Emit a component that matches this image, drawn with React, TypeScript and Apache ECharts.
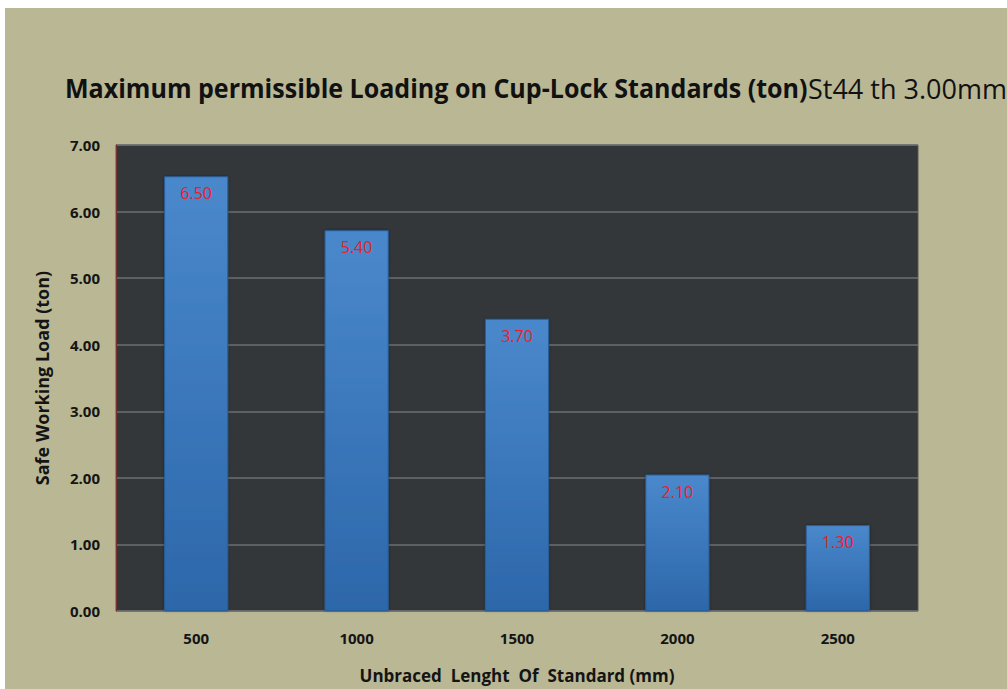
import React, { useEffect, useRef } from "react";
import * as echarts from "echarts";

const categories = ["500", "1000", "1500", "2000", "2500"];
// bar heights as drawn in the picture
const barHeights = [6.53, 5.72, 4.39, 2.05, 1.29];
// value labels printed on the bars
const barLabels = ["6.50", "5.40", "3.70", "2.10", "1.30"];
const yTicks = [0, 1, 2, 3, 4, 5, 6, 7];
const titleBold = "Maximum permissible Loading on Cup-Lock Standards (ton)";
const titleNormal = "St44 th 3.00mm";

const FONT = '"Open Sans", "Noto Sans", sans-serif';

export default function App() {
  const ref = useRef<HTMLDivElement>(null);
  useEffect(() => {
    if (!ref.current) return;
    const chart = echarts.init(ref.current, null, { renderer: "svg" });
    chart.setOption({
      animation: false,
      backgroundColor: "#b9b794",
      graphic: [
        {
          type: "text",
          x: 60,
          y: 80,
          scaleX: 0.928,
          style: {
            text: titleBold,
            fontFamily: FONT,
            fontWeight: "bold",
            fontSize: 27,
            fill: "#111",
            verticalAlign: "middle",
            align: "left",
          },
        },
        {
          type: "text",
          x: 803,
          y: 80,
          style: {
            text: titleNormal,
            fontFamily: FONT,
            fontWeight: "normal",
            fontSize: 27,
            fill: "#111",
            verticalAlign: "middle",
            align: "left",
          },
        },
      ],
      grid: {
        left: 111,
        right: 89,
        top: 137,
        bottom: 78,
        show: true,
        backgroundColor: "#33373a",
        borderWidth: 1,
        borderColor: "#55585a",
      },
      xAxis: {
        type: "category",
        data: categories,
        axisTick: { show: false },
        axisLine: { show: false },
        axisLabel: {
          margin: 19,
          fontFamily: FONT,
          fontWeight: "bold",
          fontSize: 15,
          color: "#141414",
        },
        name: "Unbraced  Lenght  Of  Standard (mm)",
        nameLocation: "middle",
        nameGap: 56,
        nameTextStyle: { fontFamily: FONT, fontWeight: "bold", fontSize: 17, color: "#141414" },
      },
      yAxis: {
        type: "value",
        min: yTicks[0],
        max: yTicks[yTicks.length - 1],
        interval: 1,
        axisLine: { show: true, lineStyle: { color: "#7a3030", width: 1 } },
        axisTick: { show: false },
        splitLine: { lineStyle: { color: "#6e7173", width: 1.5 } },
        axisLabel: {
          margin: 16,
          formatter: (v: number) => v.toFixed(2),
          fontFamily: FONT,
          fontWeight: "bold",
          fontSize: 15,
          color: "#141414",
        },
        name: "Safe Working Load (ton)",
        nameLocation: "middle",
        nameGap: 65,
        nameTextStyle: { fontFamily: FONT, fontWeight: "bold", fontSize: 18, color: "#141414" },
      },
      series: [
        {
          type: "bar",
          data: barHeights,
          barWidth: "40%",
          itemStyle: {
            color: new echarts.graphic.LinearGradient(0, 0, 0, 1, [
              { offset: 0, color: "#4a88cc" },
              { offset: 1, color: "#2c67aa" },
            ]),
            borderColor: "#2a5e9a",
            borderWidth: 1,
            shadowColor: "rgba(0,0,0,0.35)",
            shadowBlur: 3,
          },
          label: {
            show: true,
            position: "insideTop",
            distance: 9,
            formatter: (p: any) => barLabels[p.dataIndex],
            fontFamily: FONT,
            fontSize: 16,
            color: "#e8202a",
          },
        },
      ],
    });
    return () => chart.dispose();
  }, []);
  return (
    <div style={{ position: "fixed", left: 0, top: 0, width: 1007, height: 689, background: "#ffffff" }}>
      <div ref={ref} style={{ position: "absolute", left: 5, top: 8, width: 1002, height: 681 }} />
    </div>
  );
}
